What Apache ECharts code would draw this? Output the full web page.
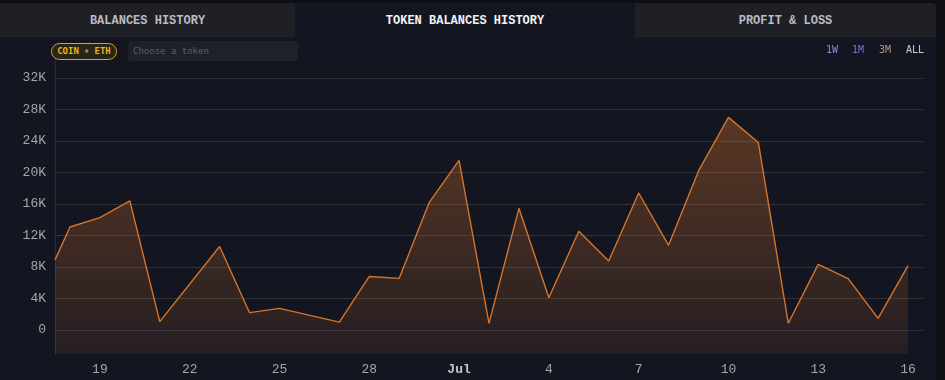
<!DOCTYPE html>
<html>
<head>
<meta charset="utf-8">
<script src="https://cdn.jsdelivr.net/npm/echarts@6/dist/echarts.min.js"></script>
<style>
  html, body { margin:0; padding:0; background:#0d0f15; width:945px; height:380px; overflow:hidden; }
  #wrap { position:absolute; left:0; top:0; width:936px; height:380px; background:#131620; }
  #chart { position:absolute; left:0; top:0; width:945px; height:380px; }
  .topstrip { position:absolute; left:0; top:0; width:945px; height:3px; background:#0d0f15; }
  .tab { position:absolute; top:3px; height:34px; line-height:36px; text-align:center;
         font-family:"Liberation Mono", monospace; font-size:12px; font-weight:bold; color:#b9bcc4; background:#1f2025; }
  .tab.active { background:#131620; color:#f2f3f6; }
  .pill { position:absolute; left:51px; top:43px; width:64px; height:15px; border:1.5px solid #d9a520; border-radius:10px;
          background:#2a2412; font-family:"DejaVu Sans Mono", monospace; font-size:9px; font-weight:bold; color:#e6b422;
          line-height:15px; text-align:center; }
  .pill .dia { color:#8a8a90; font-size:8px; }
  .input { position:absolute; left:128px; top:41px; width:170px; height:20px; background:#1f2128; border-radius:4px;
           font-family:"DejaVu Sans Mono", monospace; font-size:9px; color:#5d606a; line-height:20px; padding-left:5px; box-sizing:border-box; }
  .rng { position:absolute; top:43px; font-family:"DejaVu Sans Mono", monospace; font-size:10px; line-height:14px; }
</style>
</head>
<body>
<div id="wrap"></div>
<div id="chart"></div>
<div class="topstrip"></div>
<div class="tab" style="left:0;width:295px;">BALANCES HISTORY</div>
<div class="tab active" style="left:295px;width:340px;">TOKEN BALANCES HISTORY</div>
<div class="tab" style="left:635px;width:301px;border-top-right-radius:6px;">PROFIT &amp; LOSS</div>
<div class="pill">COIN <span class="dia">&#9830;</span> ETH</div>
<div class="input">Choose a token</div>
<div class="rng" style="left:826px;color:#8a8fe0;">1W</div>
<div class="rng" style="left:852px;color:#6f74d8;">1M</div>
<div class="rng" style="left:879px;color:#b49a7a;">3M</div>
<div class="rng" style="left:906px;color:#cfd0d8;">ALL</div>
<script>
// Data: dates (year, month index, day, hour) and balances
const dates = [
  [2024,5,17,12],[2024,5,18,0],[2024,5,19,0],[2024,5,20,0],[2024,5,21,0],
  [2024,5,23,0],[2024,5,24,0],[2024,5,25,0],[2024,5,27,0],[2024,5,28,0],
  [2024,5,29,0],[2024,5,30,0],[2024,6,1,0],[2024,6,2,0],[2024,6,3,0],
  [2024,6,4,0],[2024,6,5,0],[2024,6,6,0],[2024,6,7,0],[2024,6,8,0],
  [2024,6,9,0],[2024,6,10,0],[2024,6,11,0],[2024,6,12,0],[2024,6,13,0],
  [2024,6,14,0],[2024,6,15,0],[2024,6,16,0]
];
const balances = [
  8900, 13080, 14270, 16400, 1060,
  10600, 2200, 2750, 1000, 6800,
  6560, 16170, 21540, 850, 15450,
  4100, 12530, 8760, 17400, 10750,
  20200, 27000, 23800, 850, 8340,
  6520, 1480, 8170
];
const xTickDays = [[2024,5,19],[2024,5,22],[2024,5,25],[2024,5,28],[2024,6,1],[2024,6,4],[2024,6,7],[2024,6,10],[2024,6,13],[2024,6,16]];
const yTicks = [0, 4000, 8000, 12000, 16000, 20000, 24000, 28000, 32000];
const monthNames = ['Jan','Feb','Mar','Apr','May','Jun','Jul','Aug','Sep','Oct','Nov','Dec'];

const toTime = a => new Date(a[0], a[1], a[2], a[3] || 0).getTime();
const seriesData = dates.map((d, i) => [toTime(d), balances[i]]);
const xTicks = xTickDays.map(toTime);

const chart = echarts.init(document.getElementById('chart'), null, {renderer: 'canvas'});
chart.setOption({
  backgroundColor: 'transparent',
  animation: false,
  grid: { left: 55, right: 22, top: 58, bottom: 26 },
  xAxis: {
    type: 'value',
    min: toTime([2024,5,17,12]),
    max: toTime([2024,6,16,12]),
    axisLine: { show: true, lineStyle: { color: '#2a2c4c', width: 1 } },
    axisTick: { show: false, customValues: xTicks },
    splitLine: { show: false },
    axisLabel: {
      customValues: xTicks,
      color: '#a3a5ab',
      fontFamily: 'Liberation Mono',
      fontSize: 13,
      margin: 9,
      formatter: function (v) {
        const d = new Date(v);
        return d.getDate() === 1 ? '{m|' + monthNames[d.getMonth()] + '}' : String(d.getDate());
      },
      rich: { m: { fontWeight: 'bold', color: '#c4c6cc', fontFamily: 'Liberation Mono', fontSize: 13 } }
    }
  },
  yAxis: {
    type: 'value',
    min: -3048,
    max: 34540,
    axisLine: { show: true, lineStyle: { color: '#262a42' } },
    axisTick: { show: false, customValues: yTicks },
    splitLine: { show: true, lineStyle: { color: '#313238', width: 1 } },
    axisLabel: {
      customValues: yTicks,
      color: '#a3a5ab',
      fontFamily: 'Liberation Mono',
      fontSize: 13,
      margin: 9,
      formatter: v => v === 0 ? '0' : (v / 1000) + 'K'
    }
  },
  series: [{
    type: 'line',
    data: seriesData,
    symbol: 'none',
    lineStyle: { color: '#d6742b', width: 1.4 },
    areaStyle: {
      origin: 'start',
      color: new echarts.graphic.LinearGradient(0, 0, 0, 1, [
        { offset: 0, color: 'rgba(200,108,45,0.56)' },
        { offset: 1, color: 'rgba(200,108,45,0.15)' }
      ])
    }
  }]
});
</script>
</body>
</html>
